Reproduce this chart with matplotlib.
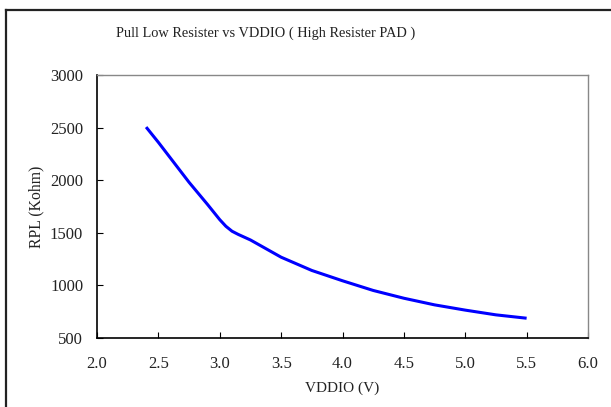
import matplotlib
matplotlib.use("Agg")
import matplotlib.pyplot as plt
from matplotlib.lines import Line2D

vddio = [2.4, 2.5, 2.75, 2.9, 3.0, 3.05, 3.1, 3.15, 3.25, 3.5, 3.75, 4.0, 4.25, 4.5, 4.75, 5.0, 5.25, 5.5]
rpl = [2505, 2360, 1980, 1770, 1625, 1562, 1515, 1485, 1432, 1268, 1142, 1044, 952, 878, 815, 765, 720, 688]

plt.rcParams['font.family'] = ['Liberation Serif', 'DejaVu Serif']

W, H = 611, 407
fig = plt.figure(figsize=(W / 100, H / 100), dpi=100)
ax = fig.add_axes([97 / W, 1 - 338 / H, (588 - 97) / W, (338 - 75) / H])

ax.plot(vddio, rpl, color='#0000ff', lw=2.2, solid_capstyle='butt', solid_joinstyle='round')

ax.set_xlim(2.0, 6.0)
ax.set_ylim(500, 3000)
ax.set_xticks([2.0, 2.5, 3.0, 3.5, 4.0, 4.5, 5.0, 5.5, 6.0])
ax.set_yticks([500, 1000, 1500, 2000, 2500, 3000])
ax.xaxis.set_major_formatter(matplotlib.ticker.FormatStrFormatter('%.1f'))
ax.tick_params(direction='in', length=4, width=0.8, labelsize=12, colors='black',
               labelcolor='#222222')
ax.tick_params(axis='x', pad=13)
ax.tick_params(axis='y', pad=10)

for s in ['left', 'bottom']:
    ax.spines[s].set_color('black')
    ax.spines[s].set_linewidth(1.2)
for s in ['top', 'right']:
    ax.spines[s].set_color('#888888')
    ax.spines[s].set_linewidth(1.0)

ax.set_xlabel('VDDIO (V)', fontsize=11, color='#222222', labelpad=7)
ax.set_ylabel('RPL (Kohm)', fontsize=11.3, color='#222222', labelpad=4)

fig.text(266 / W, 1 - 33 / H, 'Pull Low Resister vs VDDIO ( High Resister PAD )',
         ha='center', va='center', fontsize=10.4, color='#222222')

# chart frame (top and left edges visible)
fig.add_artist(Line2D([6 / W, 1], [1 - 10 / H, 1 - 10 / H], color='#222222', lw=1.6))
fig.add_artist(Line2D([6 / W, 6 / W], [0, 1 - 10 / H], color='#222222', lw=1.6))

fig.savefig('out.png', dpi=100)
